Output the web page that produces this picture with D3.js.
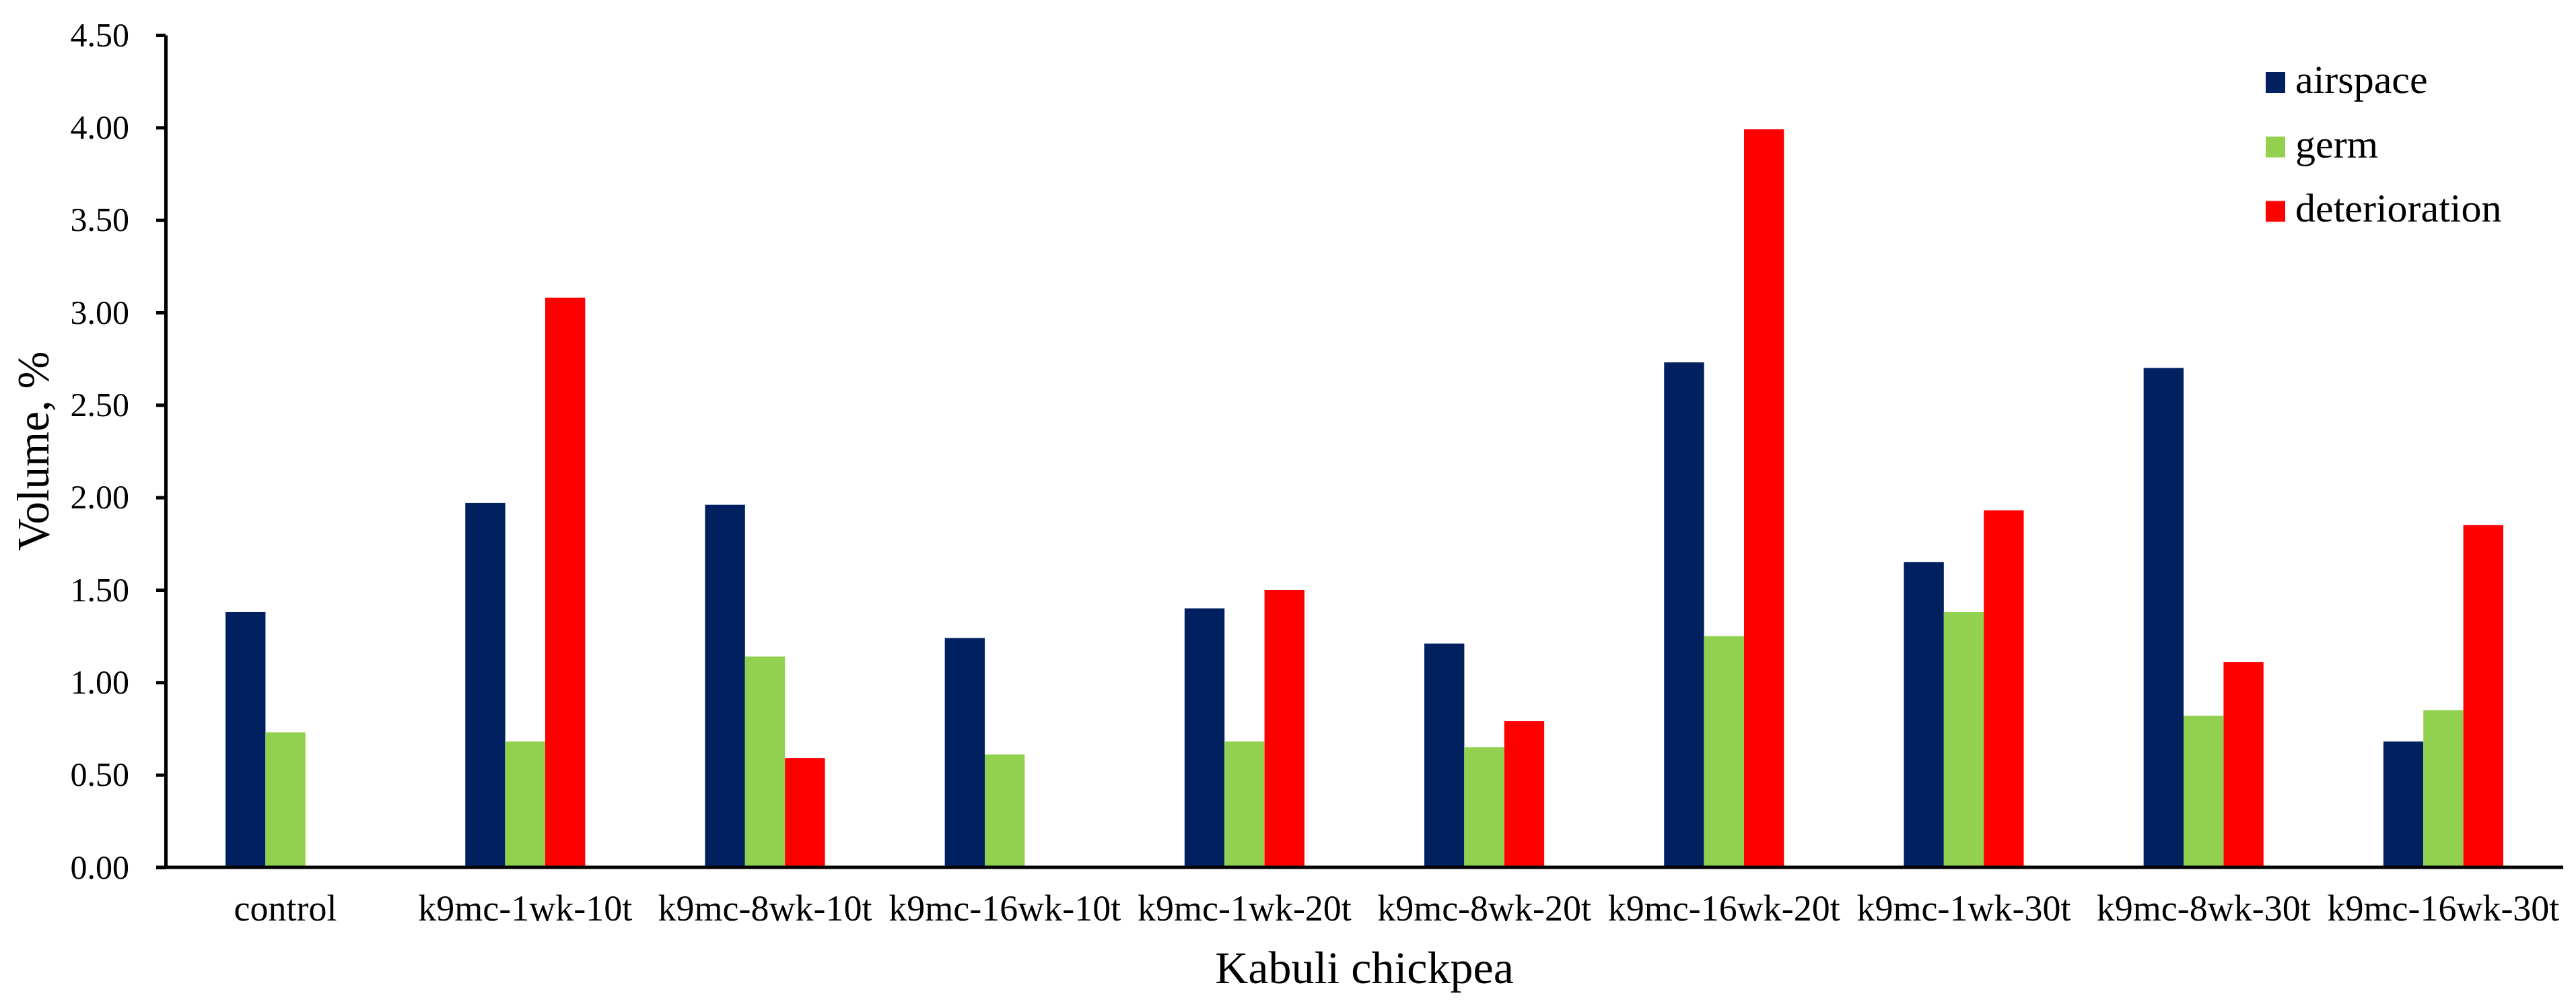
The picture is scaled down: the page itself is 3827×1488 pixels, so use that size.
<!DOCTYPE html>
<html>
<head>
<meta charset="utf-8">
<script src="https://cdn.jsdelivr.net/npm/d3@7"></script>
<style>
  html, body { margin: 0; padding: 0; background: #fff; }
  svg text { font-family: "Liberation Serif", "Times New Roman", serif; fill: #000; }
</style>
</head>
<body>
<svg id="chart" width="3827" height="1488"></svg>
<script>
const categories = ["control", "k9mc-1wk-10t", "k9mc-8wk-10t", "k9mc-16wk-10t", "k9mc-1wk-20t",
  "k9mc-8wk-20t", "k9mc-16wk-20t", "k9mc-1wk-30t", "k9mc-8wk-30t", "k9mc-16wk-30t"];
const seriesNames = ["airspace", "germ", "deterioration"];
const airspace = [1.38, 1.97, 1.96, 1.24, 1.40, 1.21, 2.73, 1.65, 2.70, 0.68];
const germ = [0.73, 0.68, 1.14, 0.61, 0.68, 0.65, 1.25, 1.38, 0.82, 0.85];
const deterioration = [0, 3.08, 0.59, 0, 1.50, 0.79, 3.99, 1.93, 1.11, 1.85];
const seriesColors = ["#002060", "#92D050", "#FF0000"];
const yTicks = [0, 0.5, 1.0, 1.5, 2.0, 2.5, 3.0, 3.5, 4.0, 4.5];
const yTitle = "Volume, %";
const xTitle = "Kabuli chickpea";

(function () {
const seriesValues = [airspace, germ, deterioration];
const svg = d3.select("#chart");

const mLeft = 246, mRight = 3808, mTop = 52, mBottom = 1288;

const x = d3.scaleBand().domain(categories).range([mLeft, mRight]).paddingInner(0).paddingOuter(0);
const bw = x.bandwidth();
const xs = d3.scaleBand().domain(seriesNames).range([bw / 4, bw * 3 / 4]);
const y = d3.scaleLinear().domain([0, 4.5]).range([mBottom, mTop]);

// bars
const groups = svg.append("g").selectAll("g").data(categories).join("g")
  .attr("transform", d => `translate(${x(d)},0)`);
groups.selectAll("rect")
  .data((d, i) => seriesNames.map((s, k) => ({ s, k, v: seriesValues[k][i] })))
  .join("rect")
  .attr("x", d => xs(d.s))
  .attr("width", xs.bandwidth())
  .attr("y", d => y(d.v))
  .attr("height", d => y(0) - y(d.v))
  .attr("fill", d => seriesColors[d.k]);

// y axis
const yAxis = d3.axisLeft(y).tickValues(yTicks).tickFormat(d3.format(".2f")).tickSizeInner(14).tickSizeOuter(0).tickPadding(40);
const ya = svg.append("g").attr("transform", `translate(${mLeft},0)`).call(yAxis);
ya.select(".domain").attr("stroke", "#000").attr("stroke-width", 5);
ya.selectAll(".tick line").attr("stroke", "#000").attr("stroke-width", 5);
ya.selectAll(".tick text").attr("font-size", 50).attr("font-family", "Liberation Serif").attr("fill", "#000");

// x axis
const xAxis = d3.axisBottom(x).tickSize(0).tickPadding(0);
const xa = svg.append("g").attr("transform", `translate(0,${mBottom})`).call(xAxis);
xa.select(".domain").remove();
xa.append("line").attr("x1", mLeft - 14).attr("x2", mRight).attr("y1", 0).attr("y2", 0)
  .attr("stroke", "#000").attr("stroke-width", 5);
xa.selectAll(".tick text").attr("font-size", 54).attr("font-family", "Liberation Serif")
  .attr("fill", "#000").attr("dy", null).attr("y", 79);

// axis titles
svg.append("text").attr("transform", `translate(72,${(mTop + mBottom) / 2}) rotate(-90)`)
  .attr("text-anchor", "middle").attr("font-size", 67).text(yTitle);
svg.append("text").attr("x", (mLeft + mRight) / 2).attr("y", 1460)
  .attr("text-anchor", "middle").attr("font-size", 68).text(xTitle);

// legend
const lg = svg.append("g").attr("transform", "translate(3366,107)");
const li = lg.selectAll("g").data(seriesNames).join("g")
  .attr("transform", (d, i) => `translate(0,${i * 95.7})`);
li.append("rect").attr("width", 29).attr("height", 31).attr("fill", (d, i) => seriesColors[i]);
li.append("text").attr("x", 44).attr("y", 31).attr("font-size", 60).text(d => d);
})();
</script>
</body>
</html>
